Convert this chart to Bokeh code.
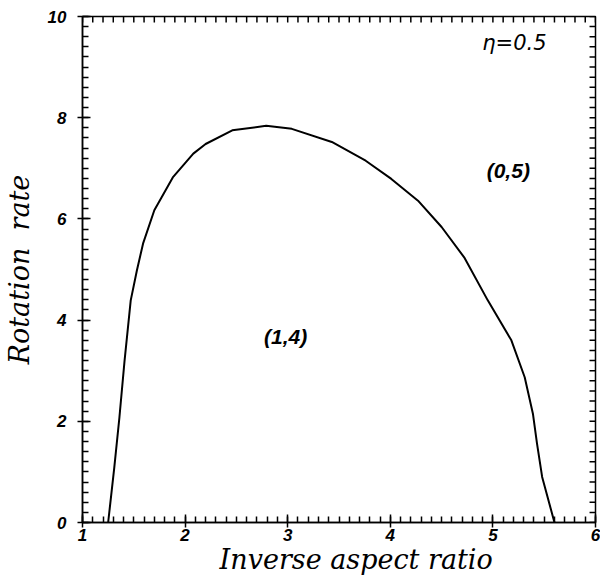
import numpy as np
from bokeh.plotting import figure
from bokeh.models import SingleIntervalTicker, Range1d
from bokeh.core.properties import value
from bokeh.embed import file_html
from bokeh.resources import INLINE

# Stability boundary
inv_aspect = [1.25, 1.31, 1.36, 1.41, 1.47, 1.53, 1.59, 1.70, 1.88, 2.08, 2.20,
              2.46, 2.79, 3.04, 3.43, 3.76, 4.01, 4.27, 4.50, 4.72, 4.95, 5.18,
              5.31, 5.39, 5.43, 5.48, 5.60]
rotation = [0.0, 1.09, 2.08, 3.20, 4.39, 4.98, 5.51, 6.17, 6.82, 7.29, 7.48,
            7.75, 7.84, 7.78, 7.52, 7.15, 6.79, 6.36, 5.84, 5.24, 4.39, 3.60,
            2.87, 2.15, 1.56, 0.90, 0.0]

label_text = ["η=0.5", "(0,5)", "(1,4)"]
label_x = [5.21, 5.15, 2.98]
label_y = [9.47, 6.96, 3.68]

x_title = "\u00a0\u00a0\u00a0\u00a0Inverse aspect ratio"
y_title = "Rotation\u00a0\u00a0rate"

x_lo, x_hi, x_major, x_minor = 1, 6, 1, 0.1
y_lo, y_hi, y_major, y_minor = 0, 10, 2, 0.2

W, H = 600, 578
B_LEFT, B_RIGHT, B_TOP, B_BOTTOM = 79, 5, 16, 56

p = figure(width=W, height=H, output_backend="svg", toolbar_location=None,
           x_range=Range1d(x_lo, x_hi), y_range=Range1d(y_lo, y_hi),
           min_border_left=B_LEFT, min_border_right=B_RIGHT, min_border_top=B_TOP,
           min_border_bottom=B_BOTTOM, background_fill_color=None,
           border_fill_color=None)
p.xgrid.visible = False
p.ygrid.visible = False
p.outline_line_color = "black"
p.outline_line_width = 1.5

tick_font = "Liberation Sans"


def style_axis(ax, interval):
    ax.ticker = SingleIntervalTicker(interval=interval, num_minor_ticks=10)
    ax.axis_line_color = "black"
    ax.axis_line_width = 1.5
    ax.major_tick_line_color = "black"
    ax.major_tick_line_width = 1.5
    ax.minor_tick_line_color = "black"
    ax.minor_tick_line_width = 1.5
    ax.major_tick_in = 8
    ax.major_tick_out = 5
    ax.minor_tick_in = 6
    ax.minor_tick_out = 0
    ax.major_label_text_font = tick_font
    ax.major_label_text_font_style = "bold italic"
    ax.major_label_text_font_size = "17px"
    ax.major_label_text_color = "black"
    ax.axis_label_text_font = "DejaVu Serif"
    ax.axis_label_text_font_style = "italic"
    ax.axis_label_text_font_size = "27px"
    ax.axis_label_text_color = "black"


xa = p.below[0]
ya = p.left[0]
style_axis(xa, x_major)
style_axis(ya, y_major)
xa.major_label_standoff = 1
xa.axis_label_standoff = 0
ya.major_label_standoff = 11
ya.axis_label_standoff = 10
xa.axis_label = x_title
ya.axis_label = y_title

# inner tick marks along the top and right frame edges, drawn as broken lines
fw = W - B_LEFT - B_RIGHT
fh = H - B_TOP - B_BOTTOM
px_x = (x_hi - x_lo) / fw
px_y = (y_hi - y_lo) / fh
L_minor = 6

xt_minor = np.arange(x_lo, x_hi + 1e-9, x_minor)
yt_minor = np.arange(y_lo, y_hi + 1e-9, y_minor)

top_x, top_y, right_x, right_y = [], [], [], []
for t in xt_minor:
    top_x += [t, t, np.nan]
    top_y += [y_hi, y_hi - L_minor * px_y, np.nan]
for t in yt_minor:
    right_x += [x_hi, x_hi - L_minor * px_x, np.nan]
    right_y += [t, t, np.nan]
p.line(top_x, top_y, line_color="black", line_width=1.5)
p.line(right_x, right_y, line_color="black", line_width=1.5)

p.line(inv_aspect, rotation, line_color="black", line_width=2)

p.text(x=label_x[:1], y=label_y[:1], text=label_text[:1],
       text_font=value("DejaVu Sans"), text_font_style="italic",
       text_font_size="21px", text_align="center", text_baseline="middle",
       text_color="black")
p.text(x=label_x[1:], y=label_y[1:], text=label_text[1:],
       text_font=value(tick_font), text_font_style="bold italic",
       text_font_size="21px", text_align="center", text_baseline="middle",
       text_color="black")

open("out.html", "w").write(file_html(p, INLINE))
